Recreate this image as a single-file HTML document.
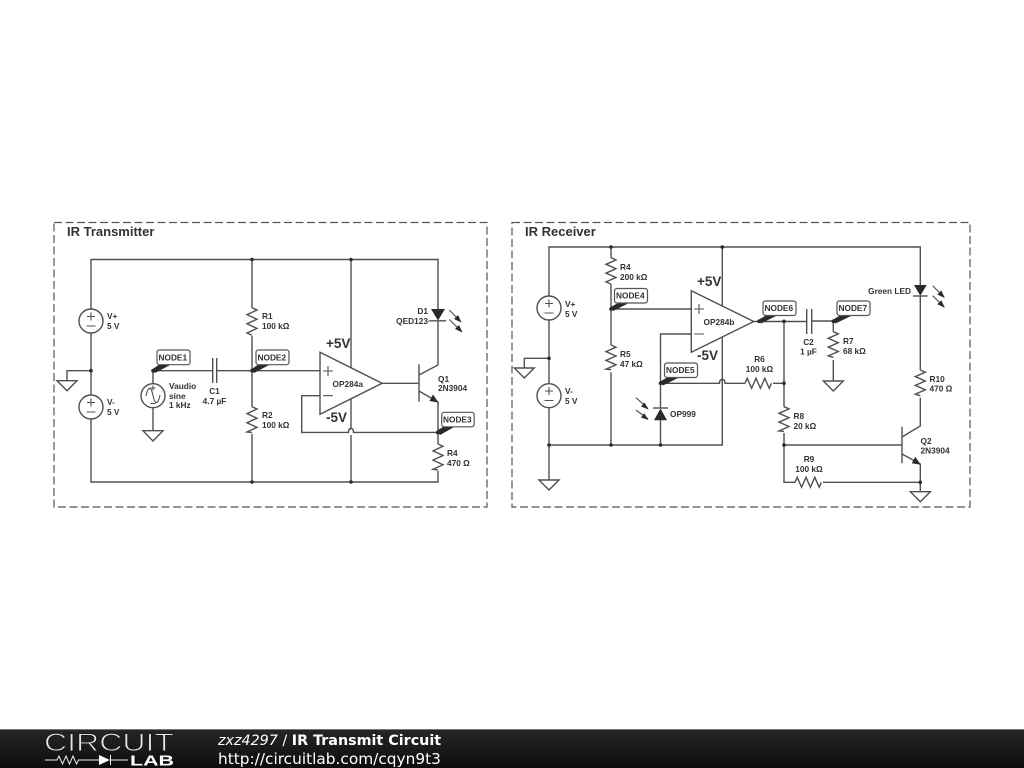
<!DOCTYPE html>
<html><head><meta charset="utf-8"><style>
html,body{margin:0;padding:0;background:#fff;width:1024px;height:768px;overflow:hidden}
svg{display:block}
.d{filter:blur(.35px)}
text{font-family:"Liberation Sans",sans-serif;fill:#333}
.l{font-size:8.3px;font-weight:bold}
.t{font-size:13px;font-weight:bold}
.v{font-size:13.5px;font-weight:bold}
.w{fill:none;stroke:#505050;stroke-width:1.4}
.a{fill:none;stroke:#505050;stroke-width:1.1}
.k{fill:#2a2a2a;stroke:none}
.b{fill:#fff;stroke:#555;stroke-width:1.2}
.m{font-family:"DejaVu Sans",sans-serif;fill:#fff}
</style></head><body>
<svg width="1024" height="768" viewBox="0 0 1024 768" xmlns="http://www.w3.org/2000/svg">
<rect width="1024" height="768" fill="#fff"/>
<g class="d">
<rect x="54" y="222.5" width="433" height="284.5" fill="none" stroke="#555" stroke-width="1.2" stroke-dasharray="8 3.5"/>
<rect x="512" y="222.5" width="458" height="284.5" fill="none" stroke="#555" stroke-width="1.2" stroke-dasharray="8 3.5"/>
<text class="t" x="67" y="236">IR Transmitter</text>
<text class="t" x="525" y="236">IR Receiver</text>

<!-- Transmitter wires -->
<path class="w" d="M91 309V259.5H438V309M91 333V395M91 419V482H438V471M67 380.7V370.7H91
M153 371V383.5M153 407.5V430.7M153 370.7H212.7M216.7 370.7H320M212.7 358V383M216.7 358V383
M252 259.5V307.7M252 336V406.7M252 434V482
M351 259.5V367.8M351 398.8V428.5M351 435V482
M320 395.7H301.7V432.4H348.5Q348.5 428.5 351 428.5Q353.5 428.5 353.5 432.4H438M382 383.3H418.5
M438 321V365L419 375M419 391L438 402V444"/>
<path class="w" d="M419 364.3V401.7"/>
<path class="w" d="M252 307.7l5 2.3l-10 4.6l10 4.6l-10 4.6l10 4.6l-10 4.6l5 2.3M252 406.7l5 2.3l-10 4.6l10 4.6l-10 4.6l10 4.6l-10 4.6l5 .6M438 444l5 2.3l-10 4.6l10 4.6l-10 4.6l10 4.6l-10 4.6l5 .6"/>
<path class="w" d="M57 380.7H77L67 390.7ZM143 430.7H163L153 441Z"/>
<path class="w" d="M320 352.3L382 383.3L320 414.3Z"/>
<circle class="w" cx="91" cy="321" r="12"/><circle class="w" cx="91" cy="407" r="12"/><circle class="w" cx="153" cy="395.7" r="12"/>
<path class="a" d="M87 316.5h8M91 312.5v8M86.5 326h9M87 402.5h8M91 398.5v8M86.5 412h9M146 396C148 386 151 386 153 395.500C155 405 158 405 160 395M150.500 388h5M153 385.500v5M150.500 403.500h5"/>
<path class="a" d="M323 371h10M328 366v10M323 395.7h10"/>
<path class="k" d="M431 309H445L438 320.500Z"/><path class="w" d="M430 320.800H446"/>
<path class="a" d="M428 321H431M449.300 310L460.700 321.700M449.300 319.500L461.700 331.700"/>
<path class="k" d="M461.500 322.500l-7.500-3.500l4-4ZM462.500 332.500l-7.500-3.500l4-4Z"/>
<path class="k" d="M438.500 402.500L429.500 401L433 394.500Z"/>

<!-- Transmitter node tags -->
<path class="k" d="M152 369.500L160 364H172L155 373Z"/><circle class="k" cx="153" cy="370.700" r="1.800"/>
<path class="k" d="M251 369.500L259 364H271L254 373Z"/><circle class="k" cx="252" cy="370.700" r="1.800"/>
<path class="k" d="M436.500 431L444.500 426H456L440 435Z"/><circle class="k" cx="437.700" cy="432.500" r="1.800"/>
<rect class="b" x="157" y="350" width="33" height="14.700" rx="2.500"/><text class="l" x="158.500" y="360.500">NODE1</text>
<rect class="b" x="256" y="350" width="33" height="14.700" rx="2.500"/><text class="l" x="257.500" y="360.500">NODE2</text>
<rect class="b" x="441.700" y="412.300" width="32.500" height="14.500" rx="2.500"/><text class="l" x="443" y="422.500">NODE3</text>
<circle class="k" cx="91" cy="370.700" r="1.800"/><circle class="k" cx="252" cy="259.500" r="1.800"/><circle class="k" cx="252" cy="482" r="1.800"/><circle class="k" cx="351" cy="259.500" r="1.800"/><circle class="k" cx="351" cy="482" r="1.800"/>

<!-- Transmitter labels -->
<text class="l" x="107" y="319">V+</text><text class="l" x="107" y="329">5 V</text>
<text class="l" x="107" y="405">V-</text><text class="l" x="107" y="415">5 V</text>
<text class="l" x="169" y="389">Vaudio</text><text class="l" x="169" y="399">sine</text><text class="l" x="169" y="408">1 kHz</text>
<text class="l" x="214.500" y="394" text-anchor="middle">C1</text><text class="l" x="214.500" y="404" text-anchor="middle">4.7 µF</text>
<text class="l" x="262" y="319">R1</text><text class="l" x="262" y="329">100 kΩ</text>
<text class="l" x="262" y="418">R2</text><text class="l" x="262" y="428">100 kΩ</text>
<text class="l" x="428" y="314" text-anchor="end">D1</text><text class="l" x="428" y="324" text-anchor="end">QED123</text>
<text class="l" x="438" y="382">Q1</text><text class="l" x="438" y="391">2N3904</text>
<text class="l" x="447" y="456">R4</text><text class="l" x="447" y="466">470 Ω</text>
<text class="l" x="332.500" y="387">OP284a</text>
<text class="v" x="326" y="348">+5V</text><text class="v" x="326" y="422">-5V</text>

<!-- Receiver wires -->
<path class="w" d="M549 296V247H920.300V285M549 320V384M549 408V480M524.300 368V358.300H549M549 445H722.300V337
M611 247V257.700M611 284.300V345M611 372.300V445M611 309H691.300
M722.300 247V306M691.300 334H660.500V408M660.500 420.300V445M660.500 383.300H719.500Q719.500 379.500 722.300 379.500Q725 379.500 725 383.300H745M773 383.300H784
M753.700 321.500H806.700M811.700 321H833.300M806.700 309V334M811.700 309V334
M833.300 321V331.700M833.300 360V381
M784 321.500V406.700M784 433V482.300H795M823 482.300H920.300M784 445H901.700
M920.300 296V370M920.300 397.700V426L902 437M902 454L920.300 464V491.700M902 426.700V463.300"/>
<path class="w" d="M611 257.700l5 2.200l-10 4.400l10 4.400l-10 4.400l10 4.400l-10 4.400l5 2.200M611 345l5 2.200l-10 4.400l10 4.400l-10 4.400l10 4.400l-10 4.400l5 .500
M833.300 331.700l5 2.200l-10 4.400l10 4.400l-10 4.400l10 4.400l-10 4.400l5 1.500
M784 406.700l5 2.200l-10 4.400l10 4.400l-10 4.400l10 4.400l-10 4.400l5 .500
M920.300 370l5 2.200l-10 4.400l10 4.400l-10 4.400l10 4.400l-10 4.400l5 1.500
M745 383.300l2.200 -5l4.400 10l4.400 -10l4.400 10l4.400 -10l4.400 10l2.200 -5
M795 482.300l2.200 -5l4.400 10l4.400 -10l4.400 10l4.400 -10l4.400 10l2.200 -5"/>
<path class="w" d="M514.300 368H534.300L524.300 378ZM539 480H559L549 490ZM823.300 381H843.300L833.300 391ZM910.300 491.700H930.300L920.300 501.700Z"/>
<path class="w" d="M691.300 290.700L753.700 321.500L691.300 352.300Z"/>
<circle class="w" cx="549" cy="308" r="12"/><circle class="w" cx="549" cy="395.700" r="12"/>
<path class="a" d="M545 303.500h8M549 299.500v8M544.500 313h9M545 391h8M549 387v8M544.500 400.500h9M694 309h10M699 304v10M694 334h10"/>
<path class="k" d="M654 420.300H667L660.500 408.500Z"/><path class="w" d="M653 408H668"/>
<path class="a" d="M636 397.700L648 408.500M636 410L648 419"/>
<path class="k" d="M648.500 409.500l-7.500-3l3.500-4ZM648.500 420l-7.500-2.500l3.200-4.200Z"/>
<path class="k" d="M914 285H926.700L920.300 295.700Z"/><path class="w" d="M913 296H927.500"/>
<path class="a" d="M932.700 285.700L944 297.300M932.700 295.700L944 307"/>
<path class="k" d="M944.800 298l-7.500-3.500l4-4ZM944.800 307.800l-7.500-3.500l4-4Z"/>
<path class="k" d="M920.800 464.700L911.800 463.200L915.300 456.700Z"/>

<!-- Receiver node tags -->
<path class="k" d="M610 307.500L618 303H629L613 311Z"/><circle class="k" cx="611" cy="309" r="1.800"/>
<path class="k" d="M659.500 382L667 377.500H679L663 385.500Z"/><circle class="k" cx="660.500" cy="383.300" r="1.800"/>
<path class="k" d="M758 320L766 315.500H777L761 323.500Z"/><circle class="k" cx="759" cy="321.300" r="1.800"/>
<path class="k" d="M832.300 320L840 315.500H852L835.500 323.500Z"/><circle class="k" cx="833.300" cy="321.300" r="1.800"/>
<rect class="b" x="614.500" y="288.500" width="33" height="14.500" rx="2.500"/><text class="l" x="616" y="298.500">NODE4</text>
<rect class="b" x="664.500" y="363" width="33" height="14.500" rx="2.500"/><text class="l" x="666" y="373">NODE5</text>
<rect class="b" x="763" y="301" width="33" height="14.500" rx="2.500"/><text class="l" x="764.500" y="311">NODE6</text>
<rect class="b" x="837" y="301" width="33" height="14.500" rx="2.500"/><text class="l" x="838.500" y="311">NODE7</text>
<circle class="k" cx="611" cy="247" r="1.800"/><circle class="k" cx="722.300" cy="247" r="1.800"/><circle class="k" cx="549" cy="358.300" r="1.800"/><circle class="k" cx="549" cy="445" r="1.800"/><circle class="k" cx="611" cy="445" r="1.800"/><circle class="k" cx="660.500" cy="445" r="1.800"/><circle class="k" cx="784" cy="321.300" r="1.800"/><circle class="k" cx="784" cy="383.300" r="1.800"/><circle class="k" cx="784" cy="445" r="1.800"/><circle class="k" cx="920.300" cy="482.300" r="1.800"/>

<!-- Receiver labels -->
<text class="l" x="565" y="307">V+</text><text class="l" x="565" y="317">5 V</text>
<text class="l" x="565" y="394">V-</text><text class="l" x="565" y="404">5 V</text>
<text class="l" x="620" y="270">R4</text><text class="l" x="620" y="280">200 kΩ</text>
<text class="l" x="620" y="357">R5</text><text class="l" x="620" y="367">47 kΩ</text>
<text class="l" x="670" y="417">OP999</text>
<text class="l" x="703.500" y="325">OP284b</text>
<text class="v" x="697" y="286">+5V</text><text class="v" x="697" y="360">-5V</text>
<text class="l" x="759.500" y="362" text-anchor="middle">R6</text><text class="l" x="759.500" y="372" text-anchor="middle">100 kΩ</text>
<text class="l" x="808.500" y="345" text-anchor="middle">C2</text><text class="l" x="808.500" y="354.500" text-anchor="middle">1 µF</text>
<text class="l" x="843" y="344">R7</text><text class="l" x="843" y="354">68 kΩ</text>
<text class="l" x="793.500" y="419">R8</text><text class="l" x="793.500" y="429">20 kΩ</text>
<text class="l" x="809" y="462" text-anchor="middle">R9</text><text class="l" x="809" y="472" text-anchor="middle">100 kΩ</text>
<text class="l" x="929.500" y="382">R10</text><text class="l" x="929.500" y="391.500">470 Ω</text>
<text class="l" x="911" y="294" text-anchor="end">Green LED</text>
<text class="l" x="920.500" y="444">Q2</text><text class="l" x="920.500" y="453.500">2N3904</text>
</g>

<!-- Footer -->
<defs><linearGradient id="f" x1="0" y1="0" x2="0" y2="1"><stop offset="0" stop-color="#262626"/><stop offset="0.35" stop-color="#1e1e1e"/><stop offset="1" stop-color="#0c0c0c"/></linearGradient></defs>
<rect x="0" y="729" width="1024" height="39" fill="url(#f)"/>
<rect x="0" y="729" width="1024" height="1" fill="#777"/>
<text x="44" y="751" font-size="25" textLength="130" lengthAdjust="spacingAndGlyphs" style="fill:#e8e8e8;stroke:#1c1c1c;stroke-width:.9;paint-order:normal">CIRCUIT</text>
<path d="M45 760H57l2-4 3.500 8 3.500-8 3.500 8 3.500-8 3.500 8 2-4H99M110 760H128M110.500 755V765" fill="none" stroke="#eee" stroke-width="1"/>
<path d="M99 755L110 760L99 765Z" fill="#fff"/>
<text x="130" y="765.500" font-size="14.500" textLength="44" lengthAdjust="spacingAndGlyphs" style="fill:#fff;font-weight:bold">LAB</text>
<text class="m" x="218" y="745" font-size="14.300"><tspan font-style="italic">zxz4297</tspan> / <tspan font-weight="bold">IR Transmit Circuit</tspan></text>
<text class="m" x="218" y="764" font-size="15.350">http://circuitlab.com/cqyn9t3</text>
</svg>
</body></html>
